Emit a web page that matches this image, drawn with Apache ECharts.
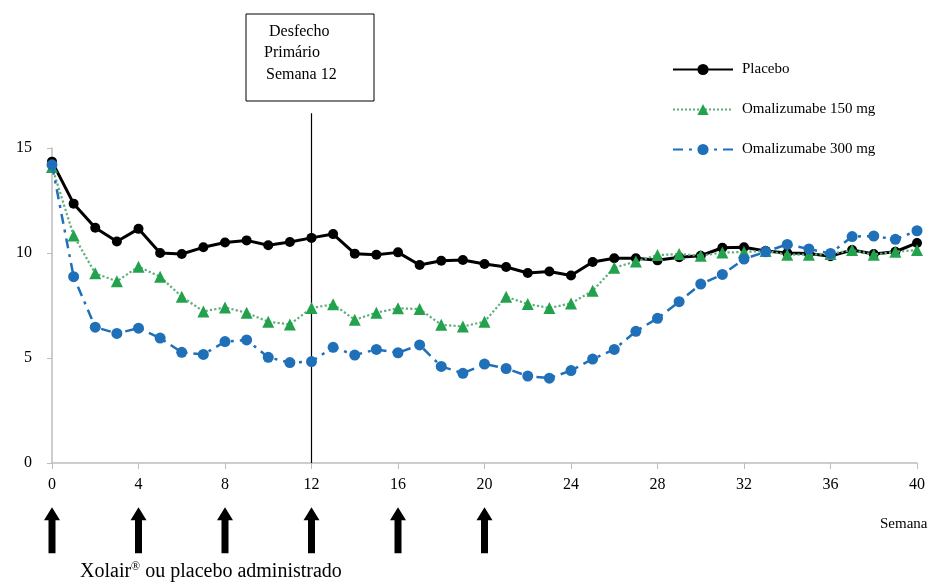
<!DOCTYPE html>
<html>
<head>
<meta charset="utf-8">
<script src="https://cdn.jsdelivr.net/npm/echarts@6/dist/echarts.min.js"></script>
<style>
html,body{margin:0;padding:0;background:#fff;}
#main{width:941px;height:586px;}
</style>
</head>
<body>
<div id="main"></div>
<script>
const weeks = [0,1,2,3,4,5,6,7,8,9,10,11,12,13,14,15,16,17,18,19,20,21,22,23,24,25,26,27,28,29,30,31,32,33,34,35,36,37,38,39,40];
const placebo = [14.35,12.35,11.2,10.55,11.15,10.0,9.95,10.27,10.5,10.6,10.37,10.52,10.72,10.9,9.97,9.92,10.03,9.43,9.63,9.67,9.48,9.33,9.05,9.12,8.93,9.57,9.75,9.75,9.65,9.8,9.87,10.25,10.27,10.1,10.0,9.98,9.85,10.14,9.95,10.06,10.48];
const oma150 = [14.1,10.83,9.03,8.65,9.35,8.87,7.92,7.22,7.41,7.15,6.73,6.6,7.38,7.56,6.82,7.16,7.37,7.33,6.58,6.5,6.73,7.92,7.57,7.38,7.6,8.2,9.3,9.6,9.9,9.95,9.87,10.02,10.05,10.1,9.92,9.92,9.95,10.14,9.92,10.06,10.14];
const oma300 = [14.2,8.87,6.47,6.17,6.42,5.95,5.27,5.17,5.78,5.86,5.03,4.78,4.83,5.51,5.14,5.41,5.25,5.62,4.6,4.27,4.71,4.5,4.14,4.04,4.4,4.95,5.41,6.27,6.89,7.68,8.52,8.98,9.71,10.06,10.41,10.19,9.98,10.78,10.81,10.65,11.06];
const seriesNames = ['Placebo','Omalizumabe 150 mg','Omalizumabe 300 mg'];
const doseWeeks = [0,4,8,12,16,20];
const doseArrowY = -3.2;
const endpointWeek = 12;
const endpointLineTop = 16.65;

const serif = "'Liberation Serif','DejaVu Serif',serif";
const chart = echarts.init(document.getElementById('main'));
const pair = (arr) => weeks.map((w,i)=>[w,arr[i]]);
const arrowPath = 'path://M8,0L16,13L11.5,13L11.5,46L4.5,46L4.5,13L0,13Z';

chart.setOption({
  animation:false,
  backgroundColor:'#fff',
  grid:{left:52,right:24,top:148,bottom:123,containLabel:false},
  xAxis:{
    type:'value',min:0,max:40,interval:4,
    axisLine:{show:true,lineStyle:{color:'#bdbdbd',width:1.5}},
    axisTick:{show:true,length:6,lineStyle:{color:'#bdbdbd'}},
    splitLine:{show:false},
    axisLabel:{color:'#000',fontFamily:serif,fontSize:16,margin:14}
  },
  yAxis:{
    type:'value',min:0,max:15,interval:5,
    axisLine:{show:true,lineStyle:{color:'#bdbdbd',width:1.5}},
    axisTick:{show:true,length:5,lineStyle:{color:'#bdbdbd'}},
    splitLine:{show:false},
    axisLabel:{color:'#000',fontFamily:serif,fontSize:16,margin:20}
  },
  legend:{
    data:seriesNames,
    orient:'vertical',left:667,top:57,
    itemWidth:60,itemHeight:14,itemGap:25,
    textStyle:{fontFamily:serif,fontSize:15,color:'#000',padding:[0,0,0,4]}
  },
  graphic:[
    {type:'rect',shape:{x:246,y:14,width:128,height:87},style:{fill:'#fff',stroke:'#000',lineWidth:1}},
    {type:'text',x:269,y:24,style:{text:'Desfecho',fontFamily:serif,fontSize:16,fill:'#000'}},
    {type:'text',x:264,y:45,style:{text:'Primário',fontFamily:serif,fontSize:16,fill:'#000'}},
    {type:'text',x:266,y:67,style:{text:'Semana 12',fontFamily:serif,fontSize:16,fill:'#000'}},
    {type:'text',x:880,y:517,style:{text:'Semana',fontFamily:serif,fontSize:15,fill:'#000'}},
    {type:'text',x:80,y:561,style:{rich:{a:{fontFamily:serif,fontSize:20,fill:'#000'},s:{fontFamily:serif,fontSize:12,fill:'#000',verticalAlign:'top',padding:[0,0,10,0]}},text:'{a|Xolair}{s|®}{a| ou placebo administrado}'}}
  ],
  series:[
    {type:'line',name:'endpoint',data:[[endpointWeek,0],[endpointWeek,endpointLineTop]],clip:false,symbol:'none',lineStyle:{color:'#000',width:1.2},silent:true,z:1},
    {type:'line',name:seriesNames[0],data:pair(placebo),symbol:'circle',symbolSize:10,
      itemStyle:{color:'#000'},lineStyle:{color:'#000',width:3},z:3},
    {type:'line',name:seriesNames[1],data:pair(oma150),symbol:'triangle',symbolSize:12,
      itemStyle:{color:'#23a24d'},lineStyle:{color:'#5fae7c',width:2.2,type:'dotted'},z:4},
    {type:'line',name:seriesNames[2],data:pair(oma300),symbol:'circle',symbolSize:11,
      itemStyle:{color:'#1f70b8'},lineStyle:{color:'#1f70b8',width:2.5,type:[10,6,3,6]},z:5},
    {type:'scatter',name:'doses',data:doseWeeks.map(w=>[w,doseArrowY]),clip:false,symbol:arrowPath,symbolSize:[16,46],
      itemStyle:{color:'#000',opacity:1},silent:true,z:2}
  ]
});
</script>
</body>
</html>
